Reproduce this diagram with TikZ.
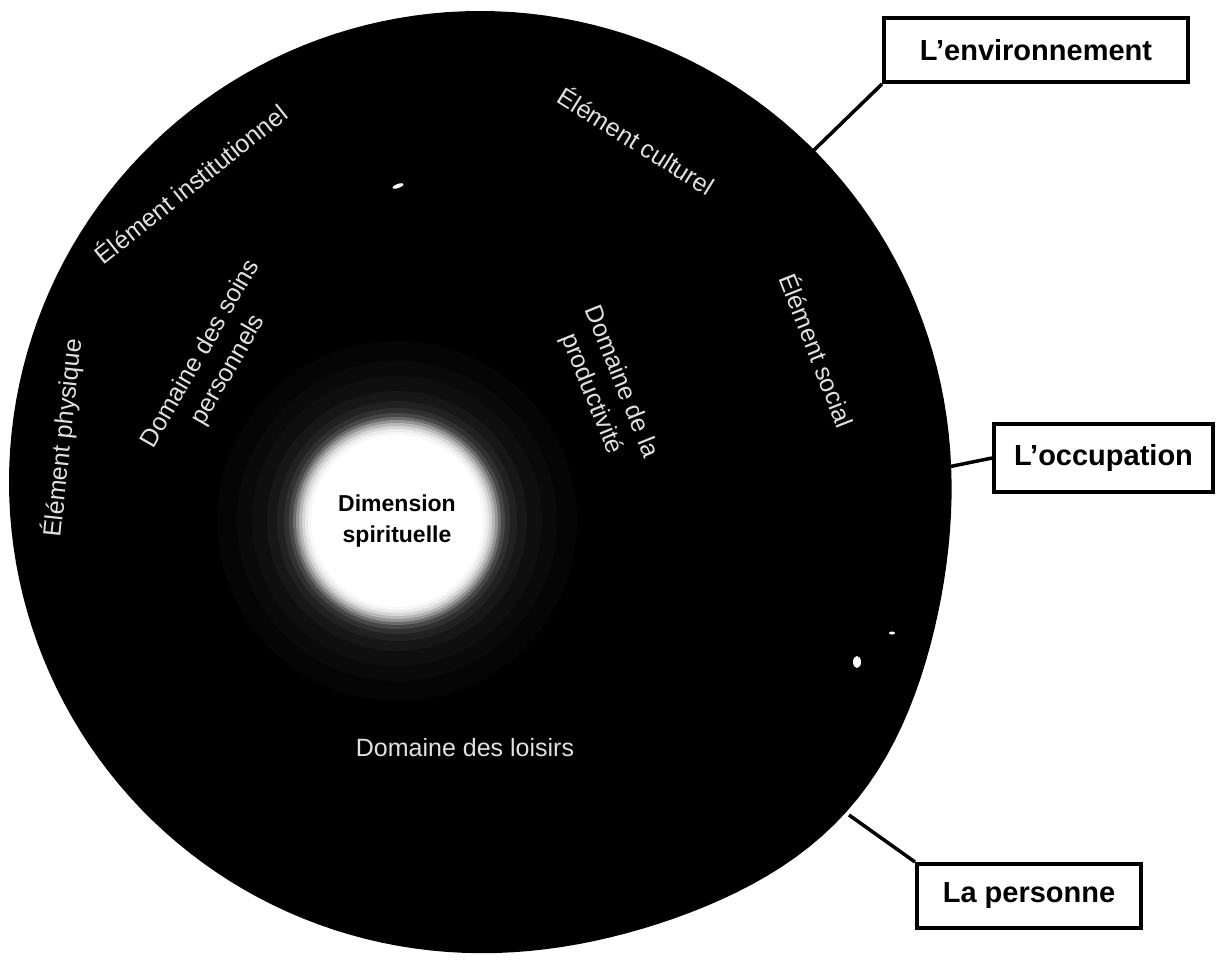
\documentclass[tikz,border=0pt]{standalone}
\usepackage{fontspec}
\setmainfont{Liberation Sans}
\tikzset{
  ringtext/.style={text=white!88!black, inner sep=0pt, align=center,
    font=\fontsize{25}{32}\selectfont},
  labelbox/.style={draw=black, line width=4pt, fill=white, inner sep=0pt,
    font=\bfseries\fontsize{29}{34}\selectfont},
  leader/.style={draw=black, line width=3.5pt},
  core/.style={text=black, align=center, inner sep=0pt,
    font=\bfseries\fontsize{23}{31}\selectfont}
}
\begin{document}
\begin{tikzpicture}[x=1pt,y=-1pt]
\useasboundingbox[fill=white] (0,0) rectangle (1220,960);

% outer dark body: a circle slightly bulging towards the lower right
\fill[black] plot[domain=-180:178, samples=180, variable=\t]
  ({480 + (471 + 22*exp(max(-9, -((\t+42)/22)^2)))*cos(\t)},
   {482 - (471 + 22*exp(max(-9, -((\t+42)/22)^2)))*sin(\t)}) -- cycle;

% anchor points on the body outline
\coordinate (envpt) at (812,152);
\coordinate (occpt) at (948,467);
\coordinate (perspt) at (849,815);

% inner spiritual core with a soft halo
\foreach \r/\w in {200/0, 180/2, 160/4, 145/6, 130/9, 120/13, 113/19,
  108/28, 104/42, 101/58, 98/72, 95/84, 92/92, 89/97, 86/100} {
  \fill[white!\w!black] (397,521) circle (\r);
}
\node[core] (spirit) at (397,521) {Dimension\\spirituelle};

% small white specks
\fill[white, rotate around={20:(398,186)}] (398,186) ellipse (6 and 2);
\fill[white] (857,662) ellipse (4 and 6);
\fill[white] (892,633) ellipse (3 and 1.5);

% ring texts
\node[ringtext, rotate=84]   (phys) at (63,438)  {Élément physique};
\node[ringtext, rotate=38.6] (inst) at (190,183) {Élément institutionnel};
\node[ringtext, rotate=-32]  (cult) at (637,140) {Élément culturel};
\node[ringtext, rotate=-68.5](soc)  at (818,350) {Élément social};
\node[ringtext, rotate=60]   (soins) at (215,362) {Domaine des soins\\personnels};
\node[ringtext, rotate=-68]  (prod) at (606,388) {Domaine de la\\productivité};
\node[ringtext]              (lois) at (465,748) {Domaine des loisirs};

% label boxes
\node[labelbox, minimum width=304, minimum height=64] (envbox) at (1036,50) {L’environnement};
\node[labelbox, minimum width=219, minimum height=68] (occbox) at (1103.5,458) {L’occupation};
\node[labelbox, minimum width=224, minimum height=64] (persbox) at (1029,896) {La personne};

% leaders
\draw[leader] (envbox.south west) -- (envpt);
\draw[leader] (occbox.west) -- (occpt);
\draw[leader] (persbox.north west) -- (perspt);
\end{tikzpicture}
\end{document}
